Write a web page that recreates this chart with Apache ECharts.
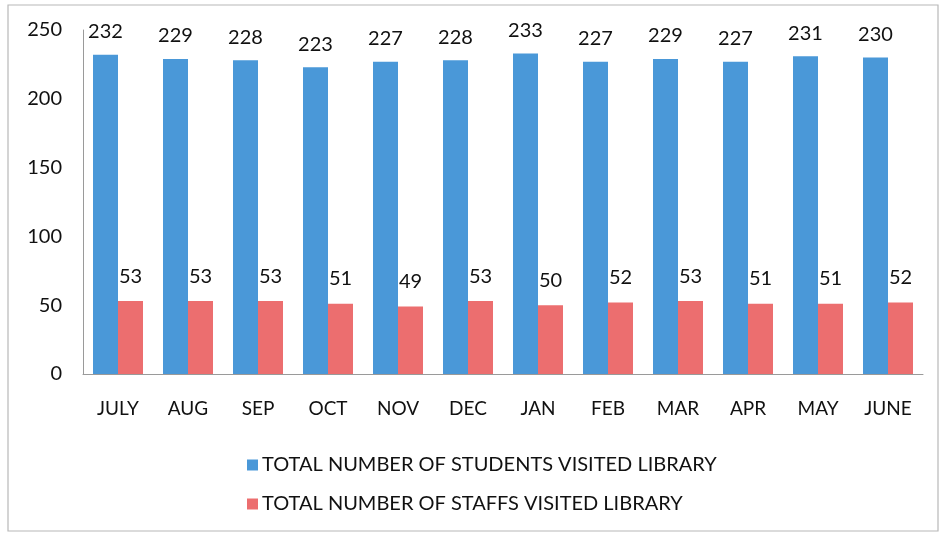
<!DOCTYPE html>
<html>
<head>
<meta charset="utf-8">
<script src="https://cdn.jsdelivr.net/npm/echarts@6/dist/echarts.min.js"></script>
<style>
  html, body { margin: 0; padding: 0; background: #ffffff; }
  #chart { width: 944px; height: 539px; }
</style>
</head>
<body>
<div id="chart"></div>
<script>
// Monthly library visits
const months = ['JULY', 'AUG', 'SEP', 'OCT', 'NOV', 'DEC', 'JAN', 'FEB', 'MAR', 'APR', 'MAY', 'JUNE'];
const studentVisits = [232, 229, 228, 223, 227, 228, 233, 227, 229, 227, 231, 230];
const staffVisits = [53, 53, 53, 51, 49, 53, 50, 52, 53, 51, 51, 52];
const studentName = 'TOTAL NUMBER OF STUDENTS VISITED LIBRARY';
const staffName = 'TOTAL NUMBER OF STAFFS VISITED LIBRARY';

const FONT = 'Lato, "Open Sans", sans-serif';
const TEXT = '#111111';

const chart = echarts.init(document.getElementById('chart'), null, { renderer: 'canvas' });

chart.setOption({
  backgroundColor: '#ffffff',
  animation: false,
  textStyle: { fontFamily: FONT },
  graphic: [{
    type: 'rect',
    shape: { x: 8, y: 5, width: 930, height: 526 },
    style: { fill: 'none', stroke: '#b8b8b8', lineWidth: 1.2 },
    silent: true
  }],
  grid: { left: 83, right: 21, top: 30, bottom: 165, containLabel: false },
  legend: {
    orient: 'vertical',
    left: 242,
    top: 450,
    itemWidth: 11,
    itemHeight: 11,
    itemGap: 19,
    icon: 'rect',
    textStyle: { fontFamily: FONT, fontSize: 20, color: TEXT, padding: [0, 0, 0, -1] },
    data: [studentName, staffName]
  },
  xAxis: {
    type: 'category',
    data: months,
    axisLine: { show: true, lineStyle: { color: '#9a9a9a', width: 1 } },
    axisTick: { show: false },
    axisLabel: { fontFamily: FONT, fontSize: 19, color: TEXT, margin: 25 }
  },
  yAxis: {
    type: 'value',
    min: 0,
    max: 250,
    interval: 50,
    axisLine: { show: true, lineStyle: { color: '#9a9a9a', width: 1 } },
    axisTick: { show: false },
    splitLine: { show: false },
    axisLabel: { fontFamily: FONT, fontSize: 20, color: TEXT, margin: 21 }
  },
  series: [
    {
      name: studentName,
      type: 'bar',
      data: studentVisits,
      barWidth: 25,
      barGap: '0%',
      itemStyle: { color: '#4a98d8' },
      label: {
        show: true,
        position: 'top',
        distance: 13,
        fontFamily: FONT,
        fontSize: 20,
        color: TEXT
      }
    },
    {
      name: staffName,
      type: 'bar',
      data: staffVisits,
      barWidth: 25,
      itemStyle: { color: '#ec6e6f' },
      label: {
        show: true,
        position: 'top',
        distance: 15,
        fontFamily: FONT,
        fontSize: 20,
        color: TEXT
      }
    }
  ]
});
</script>
</body>
</html>
